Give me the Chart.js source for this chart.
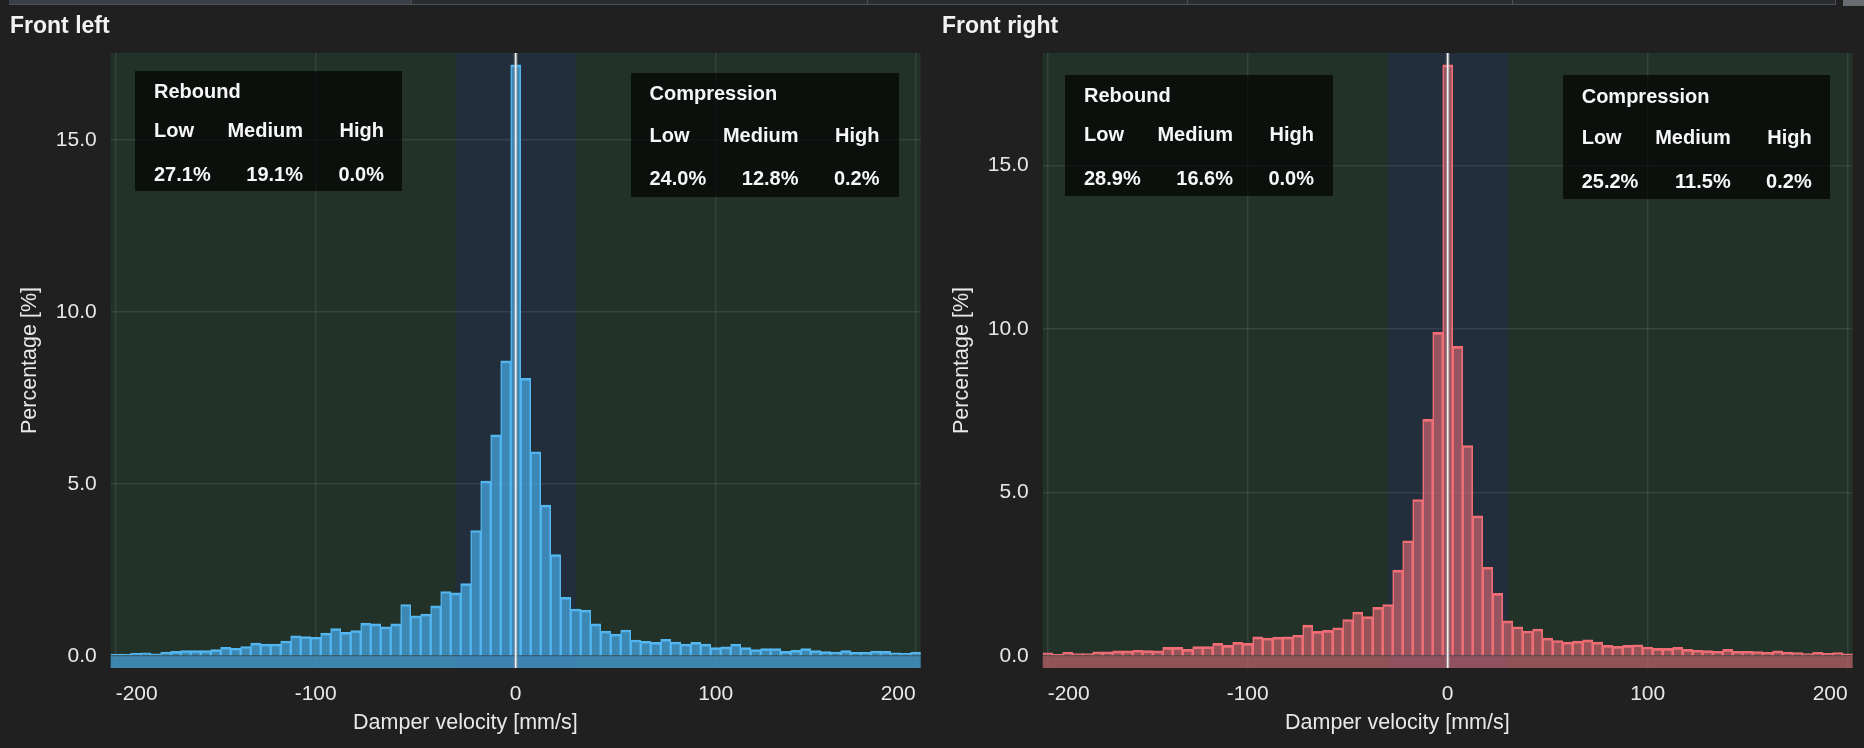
<!DOCTYPE html>
<html>
<head>
<meta charset="utf-8">
<script src="https://cdn.jsdelivr.net/npm/chart.js@4.4.1/dist/chart.umd.min.js"></script>
<style>
  html, body { margin: 0; padding: 0; background: #202020; width: 1864px; height: 748px; overflow: hidden; }
  .panel { position: absolute; top: 0; width: 932px; height: 748px; }
  .strip { position: absolute; top: 0; height: 4px; background: #2a2c2f; border-bottom: 1px solid #4b5057; }
  .strip.first { background: #3b4048; }
  .strip.sep { border-left: 1px solid #4b5057; }
  .box { position: absolute; background: rgba(0, 0, 0, 0.68); }
  .box span { position: absolute; font: bold 20px "Liberation Sans", Arial, sans-serif; line-height: 24px; color: #f7f7f7; white-space: nowrap; }
</style>
</head>
<body>
<div class="strip first" style="left:9px;width:402px"></div>
<div class="strip sep" style="left:411px;width:455px"></div>
<div class="strip sep" style="left:867px;width:319px"></div>
<div class="strip sep" style="left:1187px;width:324px"></div>
<div class="strip sep" style="left:1512px;width:322px;border-right:1px solid #4b5057"></div>
<div style="position:absolute;left:1843px;top:0;width:21px;height:6px;background:#6a6e73"></div>

<div class="panel" style="left:0"><canvas id="fl"></canvas></div>
<div class="panel" style="left:932px"><canvas id="fr"></canvas></div>
<div id="boxes"></div>

<script>
// ---------------- data ----------------
const VELOCITY_BINS = [
  -200, -195, -190, -185, -180, -175, -170, -165, -160, -155,
  -150, -145, -140, -135, -130, -125, -120, -115, -110, -105,
  -100, -95, -90, -85, -80, -75, -70, -65, -60, -55,
  -50, -45, -40, -35, -30, -25, -20, -15, -10, -5,
  0,
  5, 10, 15, 20, 25, 30, 35, 40, 45, 50,
  55, 60, 65, 70, 75, 80, 85, 90, 95, 100,
  105, 110, 115, 120, 125, 130, 135, 140, 145, 150,
  155, 160, 165, 170, 175, 180, 185, 190, 195, 200
];

const FRONT_LEFT_PCT = [
  0.06, 0.06, 0.08, 0.10, 0.07, 0.12, 0.14, 0.16, 0.16, 0.16,
  0.19, 0.26, 0.23, 0.28, 0.38, 0.35, 0.35, 0.44, 0.59, 0.57,
  0.55, 0.67, 0.80, 0.69, 0.74, 0.96, 0.94, 0.85, 0.94, 1.50,
  1.17, 1.22, 1.46, 1.88, 1.84, 2.11, 3.65, 5.09, 6.43, 8.58,
  17.18,
  8.07, 5.94, 4.39, 2.95, 1.71, 1.37, 1.34, 0.94, 0.73, 0.64,
  0.76, 0.47, 0.43, 0.40, 0.49, 0.41, 0.35, 0.40, 0.35, 0.25,
  0.27, 0.35, 0.25, 0.19, 0.22, 0.22, 0.14, 0.17, 0.22, 0.16,
  0.13, 0.12, 0.16, 0.11, 0.11, 0.15, 0.14, 0.10, 0.08, 0.11
];

const FRONT_RIGHT_PCT = [
  0.10, 0.06, 0.12, 0.08, 0.08, 0.13, 0.13, 0.16, 0.16, 0.18,
  0.17, 0.16, 0.27, 0.27, 0.21, 0.29, 0.29, 0.39, 0.33, 0.42,
  0.39, 0.59, 0.55, 0.58, 0.59, 0.64, 0.95, 0.76, 0.79, 0.87,
  1.12, 1.35, 1.21, 1.49, 1.58, 2.63, 3.53, 4.79, 7.24, 9.90,
  18.08,
  9.47, 6.44, 4.29, 2.72, 1.92, 1.08, 0.90, 0.77, 0.83, 0.55,
  0.48, 0.43, 0.46, 0.50, 0.43, 0.33, 0.30, 0.33, 0.35, 0.28,
  0.24, 0.24, 0.27, 0.21, 0.18, 0.17, 0.15, 0.21, 0.15, 0.15,
  0.14, 0.12, 0.16, 0.12, 0.11, 0.08, 0.12, 0.09, 0.11, 0.07
];

const RANGE_LABELS = ['Low', 'Medium', 'High'];
const REBOUND_FL = [27.1, 19.1, 0.0];
const COMPRESSION_FL = [24.0, 12.8, 0.2];
const REBOUND_FR = [28.9, 16.6, 0.0];
const COMPRESSION_FR = [25.2, 11.5, 0.2];

const LOW_SPEED_BAND = [-30, 30];
const X_TICKS = [-200, -100, 0, 100, 200];

const PANEL_TITLES = ['Front left', 'Front right'];
const X_TITLE = 'Damper velocity [mm/s]';
const Y_TITLE = 'Percentage [%]';

// ---------------- chart ----------------
const FONT = '"Liberation Sans", Arial, sans-serif';
Chart.defaults.font.family = FONT;

const decor = {
  id: 'decor',
  beforeDraw(chart, args, o) {
    const {ctx, chartArea: a, scales: {x}} = chart;
    ctx.save();
    ctx.fillStyle = o.plotBg;
    ctx.fillRect(a.left, a.top, a.width, a.height);
    const x0 = x.getPixelForValue(o.band[0]);
    const x1 = x.getPixelForValue(o.band[1]);
    ctx.fillStyle = o.bandBg;
    ctx.fillRect(x0, a.top, x1 - x0, a.height);
    ctx.restore();
  },
  beforeDatasetsDraw(chart, args, o) {
    const {ctx, chartArea: a, scales: {y}} = chart;
    const y0 = y.getPixelForValue(0);
    ctx.save();
    ctx.fillStyle = o.baseFill;
    ctx.fillRect(a.left, y0, a.width, a.bottom - y0);
    ctx.restore();
  },
  afterDatasetsDraw(chart, args, o) {
    const {ctx, chartArea: a, scales: {x}} = chart;
    const px = x.getPixelForValue(0);
    ctx.save();
    ctx.beginPath();
    ctx.moveTo(px, a.top); ctx.lineTo(px, a.bottom);
    ctx.strokeStyle = 'rgba(150,150,150,0.5)';
    ctx.lineWidth = 4;
    ctx.stroke();
    ctx.beginPath();
    ctx.moveTo(px, a.top); ctx.lineTo(px, a.bottom);
    ctx.strokeStyle = '#f2f2f2';
    ctx.lineWidth = 1.6;
    ctx.stroke();
    ctx.restore();
  }
};

function makeChart(id, title, values, colors) {
  const peak = Math.max(...values);
  const yMax = peak * 1.02;
  const yMin = -peak * 0.02;
  const gridColor = 'rgba(255,255,255,0.085)';
  const textColor = '#e8e8e8';
  return new Chart(document.getElementById(id), {
    type: 'bar',
    data: {
      datasets: [{
        data: VELOCITY_BINS.map((v, i) => ({x: v, y: values[i]})),
        backgroundColor: colors.fill,
        borderColor: colors.line,
        borderWidth: {top: 2, left: 1, right: 1, bottom: 0},
        borderSkipped: 'start',
        barPercentage: 1,
        categoryPercentage: 1
      }]
    },
    options: {
      responsive: true,
      maintainAspectRatio: false,
      animation: false,
      events: [],
      layout: {padding: {left: 10, right: 11.3, top: 0, bottom: 0}, autoPadding: false},
      plugins: {
        legend: {display: false},
        tooltip: {enabled: false},
        title: {
          display: true, text: title, align: 'start', color: '#f2f2f2',
          font: {size: 23, weight: 'bold'}, padding: {top: 13.2, bottom: 12.2}
        },
        subtitle: {
          display: true, text: X_TITLE, position: 'bottom', color: textColor,
          font: {size: 21.5}, padding: {top: 0, bottom: 11.6}
        },
        decor: {
          plotBg: '#223229', bandBg: '#222e3b', band: LOW_SPEED_BAND, baseFill: colors.base
        }
      },
      scales: {
        x: {
          type: 'linear', min: -202.5, max: 202.5, offset: false,
          grid: {color: gridColor, lineWidth: 1.5, drawTicks: false, offset: false},
          border: {display: false},
          afterBuildTicks: s => { s.ticks = X_TICKS.map(v => ({value: v})); },
          ticks: {
            align: 'inner', color: textColor, font: {size: 21}, padding: 14, maxRotation: 0,
            callback: v => String(v)
          },
          afterFit: s => { s.height = 42.6; }
        },
        y: {
          min: yMin, max: yMax,
          grid: {color: gridColor, lineWidth: 1.5, drawTicks: false},
          border: {display: false},
          ticks: {
            stepSize: 5, includeBounds: false, color: textColor, font: {size: 21}, padding: 14,
            callback: v => Number(v).toFixed(1)
          },
          title: {display: true, text: Y_TITLE, color: textColor, font: {size: 21.5}, padding: {top: 7, bottom: 0}},
          afterFit: s => { s.width = 100.7; }
        }
      }
    },
    plugins: [decor]
  });
}

makeChart('fl', PANEL_TITLES[0], FRONT_LEFT_PCT,
  {fill: 'rgba(71,165,224,0.75)', line: '#55b7f0', base: 'rgba(71,165,224,0.72)'});
makeChart('fr', PANEL_TITLES[1], FRONT_RIGHT_PCT,
  {fill: 'rgba(232,109,122,0.59)', line: '#f06e73', base: 'rgba(232,109,122,0.56)'});

// ---------------- summary boxes ----------------
const BOXES = [
  {name: 'Rebound', vals: REBOUND_FL, left: 135, top: 71, w: 267, h: 120, rows: [20, 58.5, 102.5]},
  {name: 'Compression', vals: COMPRESSION_FL, left: 630.5, top: 72.5, w: 268, h: 124.5, rows: [20.7, 62.5, 105.7]},
  {name: 'Rebound', vals: REBOUND_FR, left: 1065, top: 75, w: 268, h: 121, rows: [20, 59.3, 102.7]},
  {name: 'Compression', vals: COMPRESSION_FR, left: 1562.7, top: 75, w: 267.5, h: 124, rows: [20.7, 61.7, 106]}
];
const COL_X = [19, 168, 249];
const host = document.getElementById('boxes');
BOXES.forEach(b => {
  const d = document.createElement('div');
  d.className = 'box';
  Object.assign(d.style, {left: b.left + 'px', top: b.top + 'px', width: b.w + 'px', height: b.h + 'px'});
  const put = (text, col, cy) => {
    const s = document.createElement('span');
    s.textContent = text;
    s.style.top = (cy - 12) + 'px';
    s.style.left = COL_X[col] + 'px';
    if (col > 0) s.style.transform = 'translateX(-100%)';
    d.appendChild(s);
  };
  put(b.name, 0, b.rows[0]);
  RANGE_LABELS.forEach((t, i) => put(t, i, b.rows[1]));
  b.vals.forEach((v, i) => put(v.toFixed(1) + '%', i, b.rows[2]));
  host.appendChild(d);
});
</script>
</body>
</html>
